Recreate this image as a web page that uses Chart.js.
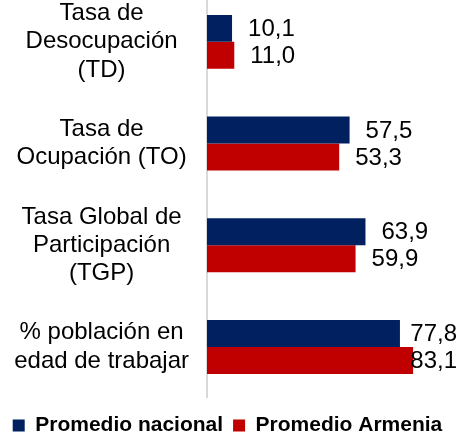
<!DOCTYPE html>
<html>
<head>
<meta charset="utf-8">
<script src="https://cdn.jsdelivr.net/npm/chart.js@4"></script>
<style>
  html, body { margin: 0; padding: 0; background: #fff; overflow: hidden; }
  #wrap { position: absolute; left: 0; top: -9px; width: 462px; height: 455px; }
</style>
</head>
<body>
<div id="wrap"><canvas id="chart" width="462" height="455"></canvas></div>
<script>
/* ========= DATA ========= */
const categories = [
  ["Tasa de", "Desocupación", "(TD)"],
  ["Tasa de", "Ocupación (TO)"],
  ["Tasa Global de", "Participación", "(TGP)"],
  ["% población en", "edad de trabajar"]
];
const nacional = [10.1, 57.5, 63.9, 77.8];
const armenia = [11.0, 53.3, 59.9, 83.1];
const seriesNames = ["Promedio nacional", "Promedio Armenia"];

const FONT = "'Liberation Sans', Arial, sans-serif";

/* ========= VALUE LABELS ========= */
const valueLabels = {
  id: "valueLabels",
  afterDatasetsDraw(chart) {
    const ctx = chart.ctx;
    ctx.save();
    ctx.font = "24px " + FONT;
    ctx.fillStyle = "#000";
    ctx.textBaseline = "middle";
    ctx.textAlign = "left";
    chart.data.datasets.forEach((ds, i) => {
      chart.getDatasetMeta(i).data.forEach((bar, j) => {
        const txt = ds.data[j].toFixed(1).replace(".", ",");
        const w = ctx.measureText(txt).width;
        const x = Math.min(bar.x + 16, chart.width - 5 - w);
        ctx.fillText(txt, x, bar.y + 1);
      });
    });
    ctx.restore();
  }
};

/* ========= CHART ========= */
new Chart(document.getElementById("chart"), {
  type: "bar",
  data: {
    labels: categories,
    datasets: [
      { label: seriesNames[0], data: nacional, backgroundColor: "#002060" },
      { label: seriesNames[1], data: armenia, backgroundColor: "#C00000" }
    ]
  },
  options: {
    indexAxis: "y",
    responsive: false,
    animation: false,
    layout: { padding: { top: 0, right: 7, left: 0, bottom: 0 } },
    datasets: { bar: { categoryPercentage: 0.53, barPercentage: 1 } },
    scales: {
      x: { display: false, min: 0, max: 100 },
      y: {
        grid: { display: false },
        border: { display: true, color: "#d9d9d9", width: 2 },
        ticks: {
          crossAlign: "center",
          padding: 10,
          color: "#000",
          font: { family: FONT, size: 24, lineHeight: 1.18 }
        },
        afterFit(scale) {
          scale.width = 207;
          scale.paddingTop = 0;
          scale.paddingBottom = 0;
        }
      }
    },
    plugins: {
      legend: {
        position: "bottom",
        title: { display: true, text: " ", font: { size: 1 }, padding: 3 },
        labels: {
          boxWidth: 12,
          boxHeight: 12,
          padding: 10,
          color: "#000",
          font: { family: FONT, size: 21, weight: "bold" }
        }
      },
      tooltip: { enabled: false }
    }
  },
  plugins: [valueLabels]
});
</script>
</body>
</html>
